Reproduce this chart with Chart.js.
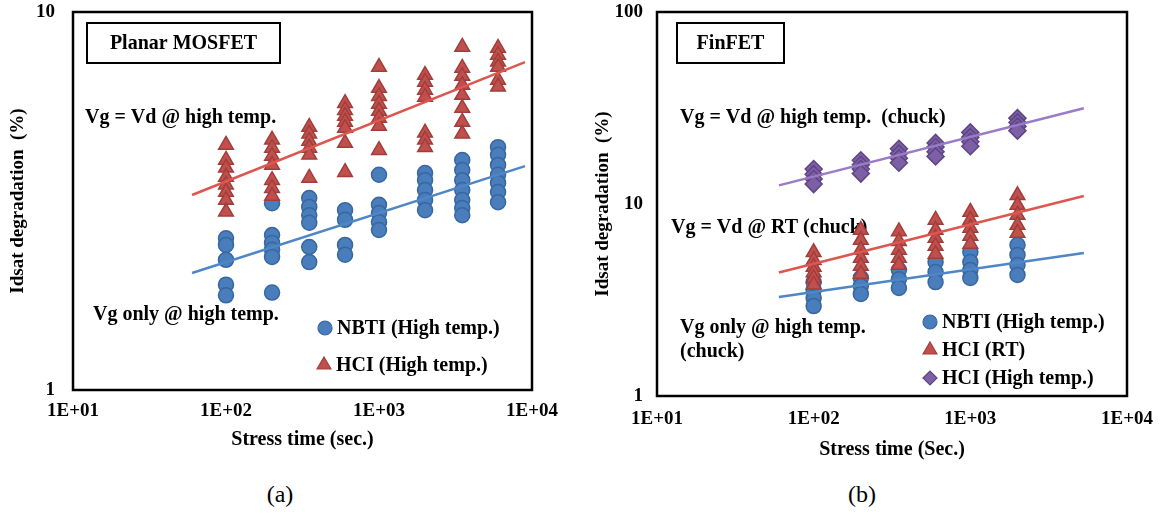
<!DOCTYPE html>
<html>
<head>
<meta charset="utf-8">
<script src="https://cdn.jsdelivr.net/npm/chart.js@4.4.0/dist/chart.umd.min.js"></script>
<style>
body{margin:0;background:#fff;width:1173px;height:520px;position:relative;overflow:hidden;font-family:'Liberation Serif','Times New Roman',serif}
canvas{position:absolute;top:0}
#chartA{left:0}
#chartB{left:585px}
.cap{position:absolute;top:480px;width:60px;text-align:center;font-size:24px;line-height:28px;color:#000}
</style>
</head>
<body>
<canvas id="chartA" width="560" height="470"></canvas>
<canvas id="chartB" width="588" height="470"></canvas>
<div class="cap" style="left:250px">(a)</div>
<div class="cap" style="left:832px">(b)</div>
<script>
// ---- panel (a) : Planar MOSFET ----
const aTimes = [100, 200, 350, 600, 1000, 2000, 3500, 6000];
const aNbti = [
    [2.52, 2.42, 2.21, 1.90, 1.78],
    [3.12, 2.57, 2.45, 2.35, 2.25, 1.81],
    [3.22, 3.05, 2.90, 2.77, 2.39, 2.18],
    [2.99, 2.82, 2.42, 2.28],
    [3.71, 3.09, 2.94, 2.78, 2.65],
    [3.75, 3.59, 3.38, 3.18, 2.99],
    [4.06, 3.82, 3.59, 3.38, 3.18, 3.03, 2.90],
    [4.39, 4.19, 3.94, 3.71, 3.53, 3.34, 3.14]
];
const aHci = [
    [4.45, 4.06, 3.87, 3.66, 3.49, 3.34, 3.18, 2.96],
    [4.59, 4.37, 4.16, 3.94, 3.59, 3.42, 3.26],
    [4.96, 4.76, 4.56, 4.37, 4.19, 3.64],
    [5.74, 5.50, 5.31, 5.12, 4.93, 4.50, 3.77],
    [7.15, 6.29, 5.99, 5.71, 5.47, 5.24, 4.99, 4.31],
    [6.81, 6.53, 6.22, 5.96, 4.79, 4.59, 4.39],
    [8.08, 7.11, 6.77, 6.41, 6.03, 5.57, 5.12, 4.76],
    [8.03, 7.70, 7.38, 7.15, 6.61, 6.34]
];
const aTrendX = [60, 9000];
const aNbtiTrend = [2.04, 3.91];
const aHciTrend = [3.28, 7.37];
const aXTicks = [10, 100, 1000, 10000];
const aXLabels = ['1E+01', '1E+02', '1E+03', '1E+04'];
const aYTicks = [1, 10];
const aYLabels = ['1', '10'];

// ---- panel (b) : FinFET ----
const bTimes = [100, 200, 350, 600, 1000, 2000];
const bNbti = [
    [3.92, 3.56, 3.24, 2.94],
    [4.12, 3.74, 3.40],
    [4.53, 4.06, 3.65],
    [4.99, 4.42, 3.92],
    [5.62, 4.99, 4.53, 4.12],
    [6.11, 5.43, 4.81, 4.27]
];
const bHciRt = [
    [5.6, 5.1, 4.7, 4.4, 4.1, 3.8],
    [7.32, 6.49, 5.76, 5.23, 4.75, 4.32],
    [7.2, 6.4, 5.76, 5.23, 4.81],
    [8.26, 7.32, 6.65, 6.04, 5.49],
    [9.09, 8.26, 7.50, 6.81, 6.19],
    [11.1, 9.88, 8.77, 7.78, 7.06]
];
const bHciHot = [
    [15.2, 14.3, 13.5, 12.7],
    [16.9, 16.0, 15.2, 14.4],
    [19.4, 18.3, 17.3, 16.4],
    [20.8, 19.8, 18.7, 17.7],
    [23.6, 22.3, 21.1, 20.0],
    [28.0, 26.6, 25.3, 24.1]
];
const bTrendX = [60, 5300];
const bNbtiTrend = [3.28, 5.56];
const bHciRtTrend = [4.4, 11.0];
const bHciHotTrend = [12.5, 31.5];
const bXTicks = [10, 100, 1000, 10000];
const bXLabels = ['1E+01', '1E+02', '1E+03', '1E+04'];
const bYTicks = [1, 10, 100];
const bYLabels = ['1', '10', '100'];

const SERIF = "'Liberation Serif', 'Times New Roman', serif";
const BLUE = {fill: '#4a7dbb', edge: '#3867a0', line: '#4f86c6'};
const RED = {fill: '#c0504d', edge: '#a13d3a', line: '#dd5650'};
const PURPLE = {fill: '#7d5fa6', edge: '#5e4584', line: '#9a7bc8'};

function points(times, groups) {
    const out = [];
    times.forEach((t, i) => groups[i].forEach(v => out.push({x: t, y: v})));
    return out;
}
function trend(xs, ys) {
    return xs.map((x, i) => ({x: x, y: ys[i]}));
}
function markers(data, col, style, radius, order) {
    return {data: data, pointStyle: style, pointRadius: radius, pointHoverRadius: radius,
        pointBackgroundColor: col.fill, pointBorderColor: col.edge, pointBorderWidth: 1.5,
        showLine: false, order: order};
}
function trendLine(data, col) {
    return {data: data, showLine: true, borderColor: col.line, borderWidth: 2.5,
        pointRadius: 0, fill: false, order: 0};
}

// box, notes and legend drawn around the chart area
const decor = {
    id: 'decor',
    beforeDatasetsDraw(chart, args, opts) {
        const ctx = chart.ctx;
        ctx.save();
        ctx.fillStyle = '#000';
        ctx.textBaseline = 'middle';
        ctx.textAlign = 'left';
        ctx.font = 'bold 20px ' + SERIF;
        opts.notes.forEach(n => ctx.fillText(n.text, n.x, n.y));
        ctx.restore();
    },
    afterDraw(chart, args, opts) {
        const ctx = chart.ctx;
        const a = chart.chartArea;
        ctx.save();
        ctx.strokeStyle = '#000';
        ctx.lineWidth = 2.5;
        ctx.strokeRect(a.left, a.top, a.right - a.left, a.bottom - a.top);
        const t = opts.titleBox;
        ctx.lineWidth = 2;
        ctx.fillStyle = '#fff';
        ctx.fillRect(t.x, t.y, t.w, t.h);
        ctx.strokeRect(t.x, t.y, t.w, t.h);
        ctx.fillStyle = '#000';
        ctx.font = 'bold 20px ' + SERIF;
        ctx.textAlign = 'center';
        ctx.textBaseline = 'middle';
        ctx.fillText(t.text, t.x + t.w / 2, t.y + t.h / 2 + 1);
        ctx.textAlign = 'left';
        opts.legend.forEach(l => {
            ctx.fillStyle = l.col.fill;
            ctx.strokeStyle = l.col.edge;
            ctx.lineWidth = 1.2;
            Chart.helpers.drawPoint(ctx, {pointStyle: l.style, radius: l.r, rotation: 0, borderWidth: 1.2}, l.x, l.y);
            ctx.fillStyle = '#000';
            ctx.fillText(l.text, l.x + 12, l.y + 1);
        });
        ctx.restore();
    }
};

function makeChart(id, p) {
    const tickFont = {family: SERIF, size: 19, weight: 'bold'};
    new Chart(document.getElementById(id), {
        type: 'scatter',
        data: {datasets: p.datasets},
        options: {
            responsive: false,
            animation: false,
            devicePixelRatio: 1,
            layout: {padding: {left: 0, top: 12, right: p.padRight, bottom: 0}},
            plugins: {
                legend: {display: false},
                tooltip: {enabled: false},
                decor: {notes: p.notes, titleBox: p.titleBox, legend: p.legend}
            },
            scales: {
                x: {
                    type: 'logarithmic', min: 10, max: 10000,
                    afterBuildTicks: s => { s.ticks = p.xTicks.map(v => ({value: v})); },
                    afterFit: s => { s.height = p.xHeight; s.paddingLeft = 0; s.paddingRight = 0; },
                    grid: {display: false, drawTicks: false},
                    border: {display: false},
                    ticks: {autoSkip: false, maxRotation: 0, padding: p.xPad, color: '#000', font: tickFont,
                        callback: (v, i) => p.xLabels[i]},
                    title: {display: true, text: p.xTitle, color: '#000',
                        font: {family: SERIF, size: 20, weight: 'bold'},
                        padding: {top: 0, bottom: p.xTitlePad}}
                },
                y: {
                    type: 'logarithmic', min: p.yTicks[0], max: p.yTicks[p.yTicks.length - 1],
                    afterBuildTicks: s => { s.ticks = p.yTicks.map(v => ({value: v})); },
                    afterFit: s => { s.width = p.yWidth; s.paddingTop = 0; s.paddingBottom = 0; },
                    grid: {display: false, drawTicks: false},
                    border: {display: false},
                    ticks: {autoSkip: false, padding: p.yPad, color: '#000', font: tickFont,
                        callback: (v, i) => p.yLabels[i]},
                    title: {display: true, text: 'Idsat degradation  (%)', color: '#000',
                        font: {family: SERIF, size: 19, weight: 'bold'}, padding: {top: 7, bottom: 0}}
                }
            }
        },
        plugins: [decor]
    });
}

makeChart('chartA', {
    datasets: [
        trendLine(trend(aTrendX, aHciTrend), RED),
        trendLine(trend(aTrendX, aNbtiTrend), BLUE),
        markers(points(aTimes, aHci), RED, 'triangle', 8.5, 2),
        markers(points(aTimes, aNbti), BLUE, 'circle', 7.5, 3)
    ],
    xTicks: aXTicks, xLabels: aXLabels, yTicks: aYTicks, yLabels: aYLabels,
    xTitle: 'Stress time (sec.)',
    padRight: 28, xHeight: 80, yWidth: 73, xPad: 10, yPad: 18, xTitlePad: 18,
    titleBox: {x: 87, y: 23, w: 193, h: 40, text: 'Planar MOSFET'},
    notes: [
        {text: 'Vg = Vd @ high temp.', x: 85, y: 118},
        {text: 'Vg only @ high temp.', x: 93, y: 315}
    ],
    legend: [
        {text: 'NBTI (High temp.)', style: 'circle', r: 7, col: BLUE, x: 325, y: 328},
        {text: 'HCI (High temp.)', style: 'triangle', r: 8, col: RED, x: 324, y: 365}
    ]
});

makeChart('chartB', {
    datasets: [
        trendLine(trend(bTrendX, bHciHotTrend), PURPLE),
        trendLine(trend(bTrendX, bHciRtTrend), RED),
        trendLine(trend(bTrendX, bNbtiTrend), BLUE),
        markers(points(bTimes, bHciHot), PURPLE, 'rectRot', 8.5, 1),
        markers(points(bTimes, bHciRt), RED, 'triangle', 8.5, 2),
        markers(points(bTimes, bNbti), BLUE, 'circle', 7.5, 3)
    ],
    xTicks: bXTicks, xLabels: bXLabels, yTicks: bYTicks, yLabels: bYLabels,
    xTitle: 'Stress time (Sec.)',
    padRight: 46, xHeight: 74, yWidth: 72, xPad: 12, yPad: 14, xTitlePad: 8,
    titleBox: {x: 92, y: 23, w: 107, h: 40, text: 'FinFET'},
    notes: [
        {text: 'Vg = Vd @ high temp.  (chuck)', x: 95, y: 118},
        {text: 'Vg = Vd @ RT (chuck)', x: 86, y: 228},
        {text: 'Vg only @ high temp.', x: 95, y: 328},
        {text: '(chuck)', x: 95, y: 352}
    ],
    legend: [
        {text: 'NBTI (High temp.)', style: 'circle', r: 7, col: BLUE, x: 345, y: 322},
        {text: 'HCI (RT)', style: 'triangle', r: 8, col: RED, x: 345, y: 350},
        {text: 'HCI (High temp.)', style: 'rectRot', r: 7, col: PURPLE, x: 345, y: 378}
    ]
});
</script>
</body>
</html>
